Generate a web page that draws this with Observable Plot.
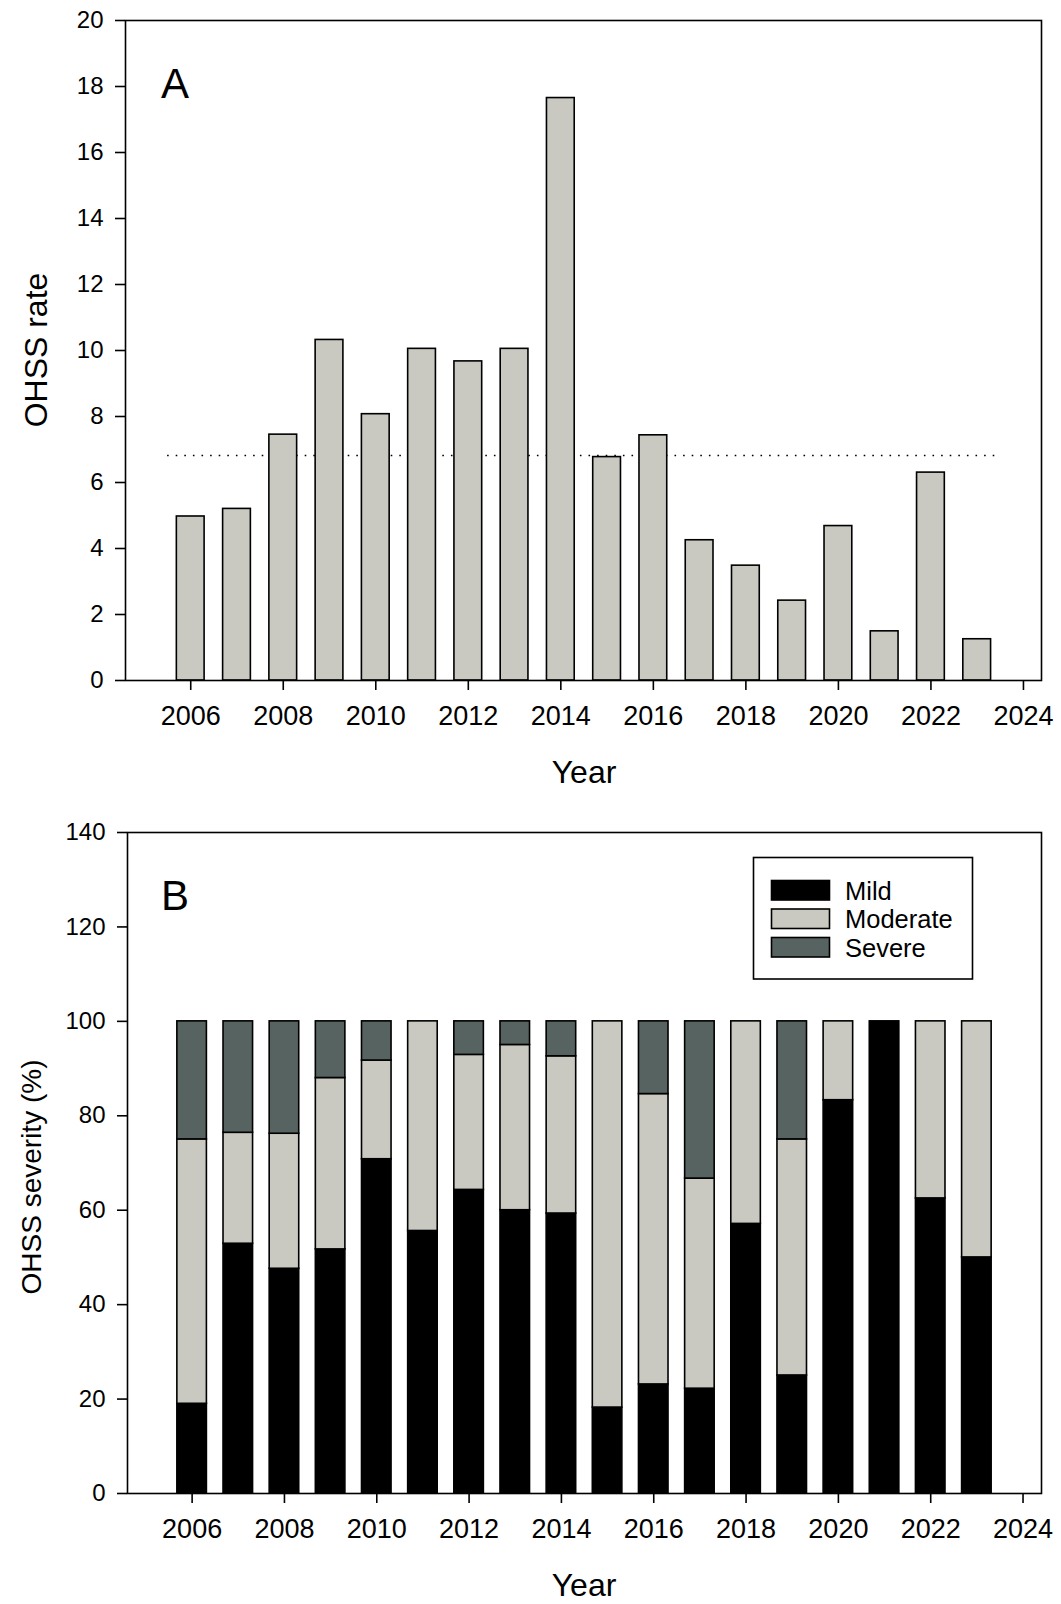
<!DOCTYPE html>
<html>
<head>
<meta charset="utf-8">
<script src="https://cdn.jsdelivr.net/npm/d3@7"></script>
<script src="https://cdn.jsdelivr.net/npm/@observablehq/plot@0.6"></script>
<style>
  html, body { margin: 0; padding: 0; background: #fff; }
  #wrap { width: 1061px; }
  svg { display: block; }
</style>
</head>
<body>
<div id="wrap"></div>
<script>
// ---------- data ----------
const years = [2006,2007,2008,2009,2010,2011,2012,2013,2014,2015,2016,2017,2018,2019,2020,2021,2022,2023];
const ohssRate = [4.97,5.20,7.45,10.32,8.07,10.05,9.67,10.05,17.65,6.77,7.43,4.25,3.48,2.42,4.68,1.49,6.30,1.25];
const meanRate = 6.82;
const meanSpan = [2005.5, 2023.5];

const severityNames = ["Mild", "Moderate", "Severe"];
const mild     = [19.0,52.9,47.6,51.7,70.8,55.6,64.3,60.0,59.3,18.2,23.1,22.2,57.1,25.0,83.3,100,62.5,50.0];
const moderate = [56.0,23.5,28.6,36.3,20.9,44.4,28.6,35.0,33.3,81.8,61.5,44.5,42.9,50.0,16.7,0,37.5,50.0];
const severe   = [25.0,23.6,23.8,12.0,8.3,0,7.1,5.0,7.4,0,15.4,33.3,0,25.0,0,0,0,0];

const xTicks = [2006,2008,2010,2012,2014,2016,2018,2020,2022,2024];
const yTicksA = [0,2,4,6,8,10,12,14,16,18,20];
const yTicksB = [0,20,40,60,80,100,120,140];

// ---------- styles ----------
const FONT = "'Liberation Sans', Arial, Helvetica, sans-serif";
const LIGHT = "#c9c9c1";
const DARK = "#566361";
const colors = ["#000000", LIGHT, DARK];

const rateData = years.map((y, i) => ({year: y, rate: ohssRate[i]}));
const sevData = [];
years.forEach((y, i) => {
  [mild[i], moderate[i], severe[i]].forEach((v, k) => {
    if (v > 0) sevData.push({year: y, severity: severityNames[k], value: v});
  });
});

const wrap = document.getElementById("wrap");

function addText(sel, txt, opts) {
  const t = sel.append("text").text(txt)
    .attr("font-family", FONT).attr("fill", "#000")
    .attr("text-anchor", opts.anchor || "start")
    .attr("font-size", opts.size);
  if (opts.transform) t.attr("transform", opts.transform);
  else t.attr("x", opts.x).attr("y", opts.y);
  return t;
}

// ---------- Panel A ----------
const plotA = Plot.plot({
  width: 1061, height: 800,
  marginLeft: 125, marginRight: 20, marginTop: 20, marginBottom: 120,
  style: {fontFamily: FONT, fontSize: "24px", color: "#000", background: "#fff"},
  x: {domain: [2004.59, 2024.39]},
  y: {domain: [0, 20]},
  marks: [
    Plot.ruleY([meanRate], {x1: meanSpan[0], x2: meanSpan[1], stroke: "#000", strokeWidth: 1.6, strokeDasharray: "1.6,7"}),
    Plot.rectY(rateData, {x1: d => d.year - 0.3, x2: d => d.year + 0.3, y1: 0, y2: "rate", fill: LIGHT, stroke: "#000", strokeWidth: 1.6}),
    Plot.frame({stroke: "#000", strokeWidth: 1.6}),
    Plot.axisY({ticks: yTicksA, tickSize: 10, tickPadding: 12, fontSize: 24, label: null, strokeWidth: 1.6}),
    Plot.axisX({ticks: xTicks, tickSize: 10, tickPadding: 15, fontSize: 27, label: null, tickFormat: d => String(d), strokeWidth: 1.6})
  ]
});
wrap.appendChild(plotA);

const sA = d3.select(plotA);
addText(sA, "A", {x: 161, y: 98, size: 42});
addText(sA, "Year", {x: 584, y: 783, size: 32, anchor: "middle"});
addText(sA, "OHSS rate", {transform: "translate(46.5,350) rotate(-90)", size: 32, anchor: "middle"});

// ---------- Panel B ----------
const plotB = Plot.plot({
  width: 1061, height: 804,
  marginLeft: 127, marginRight: 20, marginTop: 32, marginBottom: 111,
  style: {fontFamily: FONT, fontSize: "24px", color: "#000", background: "#fff"},
  x: {domain: [2004.6, 2024.4]},
  y: {domain: [0, 140]},
  color: {domain: severityNames, range: colors},
  marks: [
    Plot.rectY(sevData, Plot.stackY({x: d => d.year - 0.32, x1: d => d.year - 0.32, x2: d => d.year + 0.32, y: "value", fill: "severity", stroke: "#000", strokeWidth: 1.6, order: severityNames})),
    Plot.frame({stroke: "#000", strokeWidth: 1.6}),
    Plot.axisY({ticks: yTicksB, tickSize: 10, tickPadding: 12, fontSize: 24, label: null, strokeWidth: 1.6}),
    Plot.axisX({ticks: xTicks, tickSize: 10, tickPadding: 15, fontSize: 27, label: null, tickFormat: d => String(d), strokeWidth: 1.6})
  ]
});
wrap.appendChild(plotB);

const sB = d3.select(plotB);
addText(sB, "B", {x: 161, y: 110, size: 42});
addText(sB, "Year", {x: 584, y: 796, size: 32, anchor: "middle"});
addText(sB, "OHSS severity (%)", {transform: "translate(41,377) rotate(-90)", size: 28, anchor: "middle"});

// legend
const lg = sB.append("g");
lg.append("rect").attr("x", 753.5).attr("y", 57.5).attr("width", 219).attr("height", 121.5).attr("fill", "#fff").attr("stroke", "#000").attr("stroke-width", 1.6);
severityNames.forEach((name, k) => {
  const y0 = 80.5 + k * 28.5;
  lg.append("rect").attr("x", 771.5).attr("y", y0).attr("width", 58).attr("height", 19.5).attr("fill", colors[k]).attr("stroke", "#000").attr("stroke-width", 1.6);
  addText(lg, name, {x: 845, y: y0 + 19, size: 25.5});
});
</script>
</body>
</html>
